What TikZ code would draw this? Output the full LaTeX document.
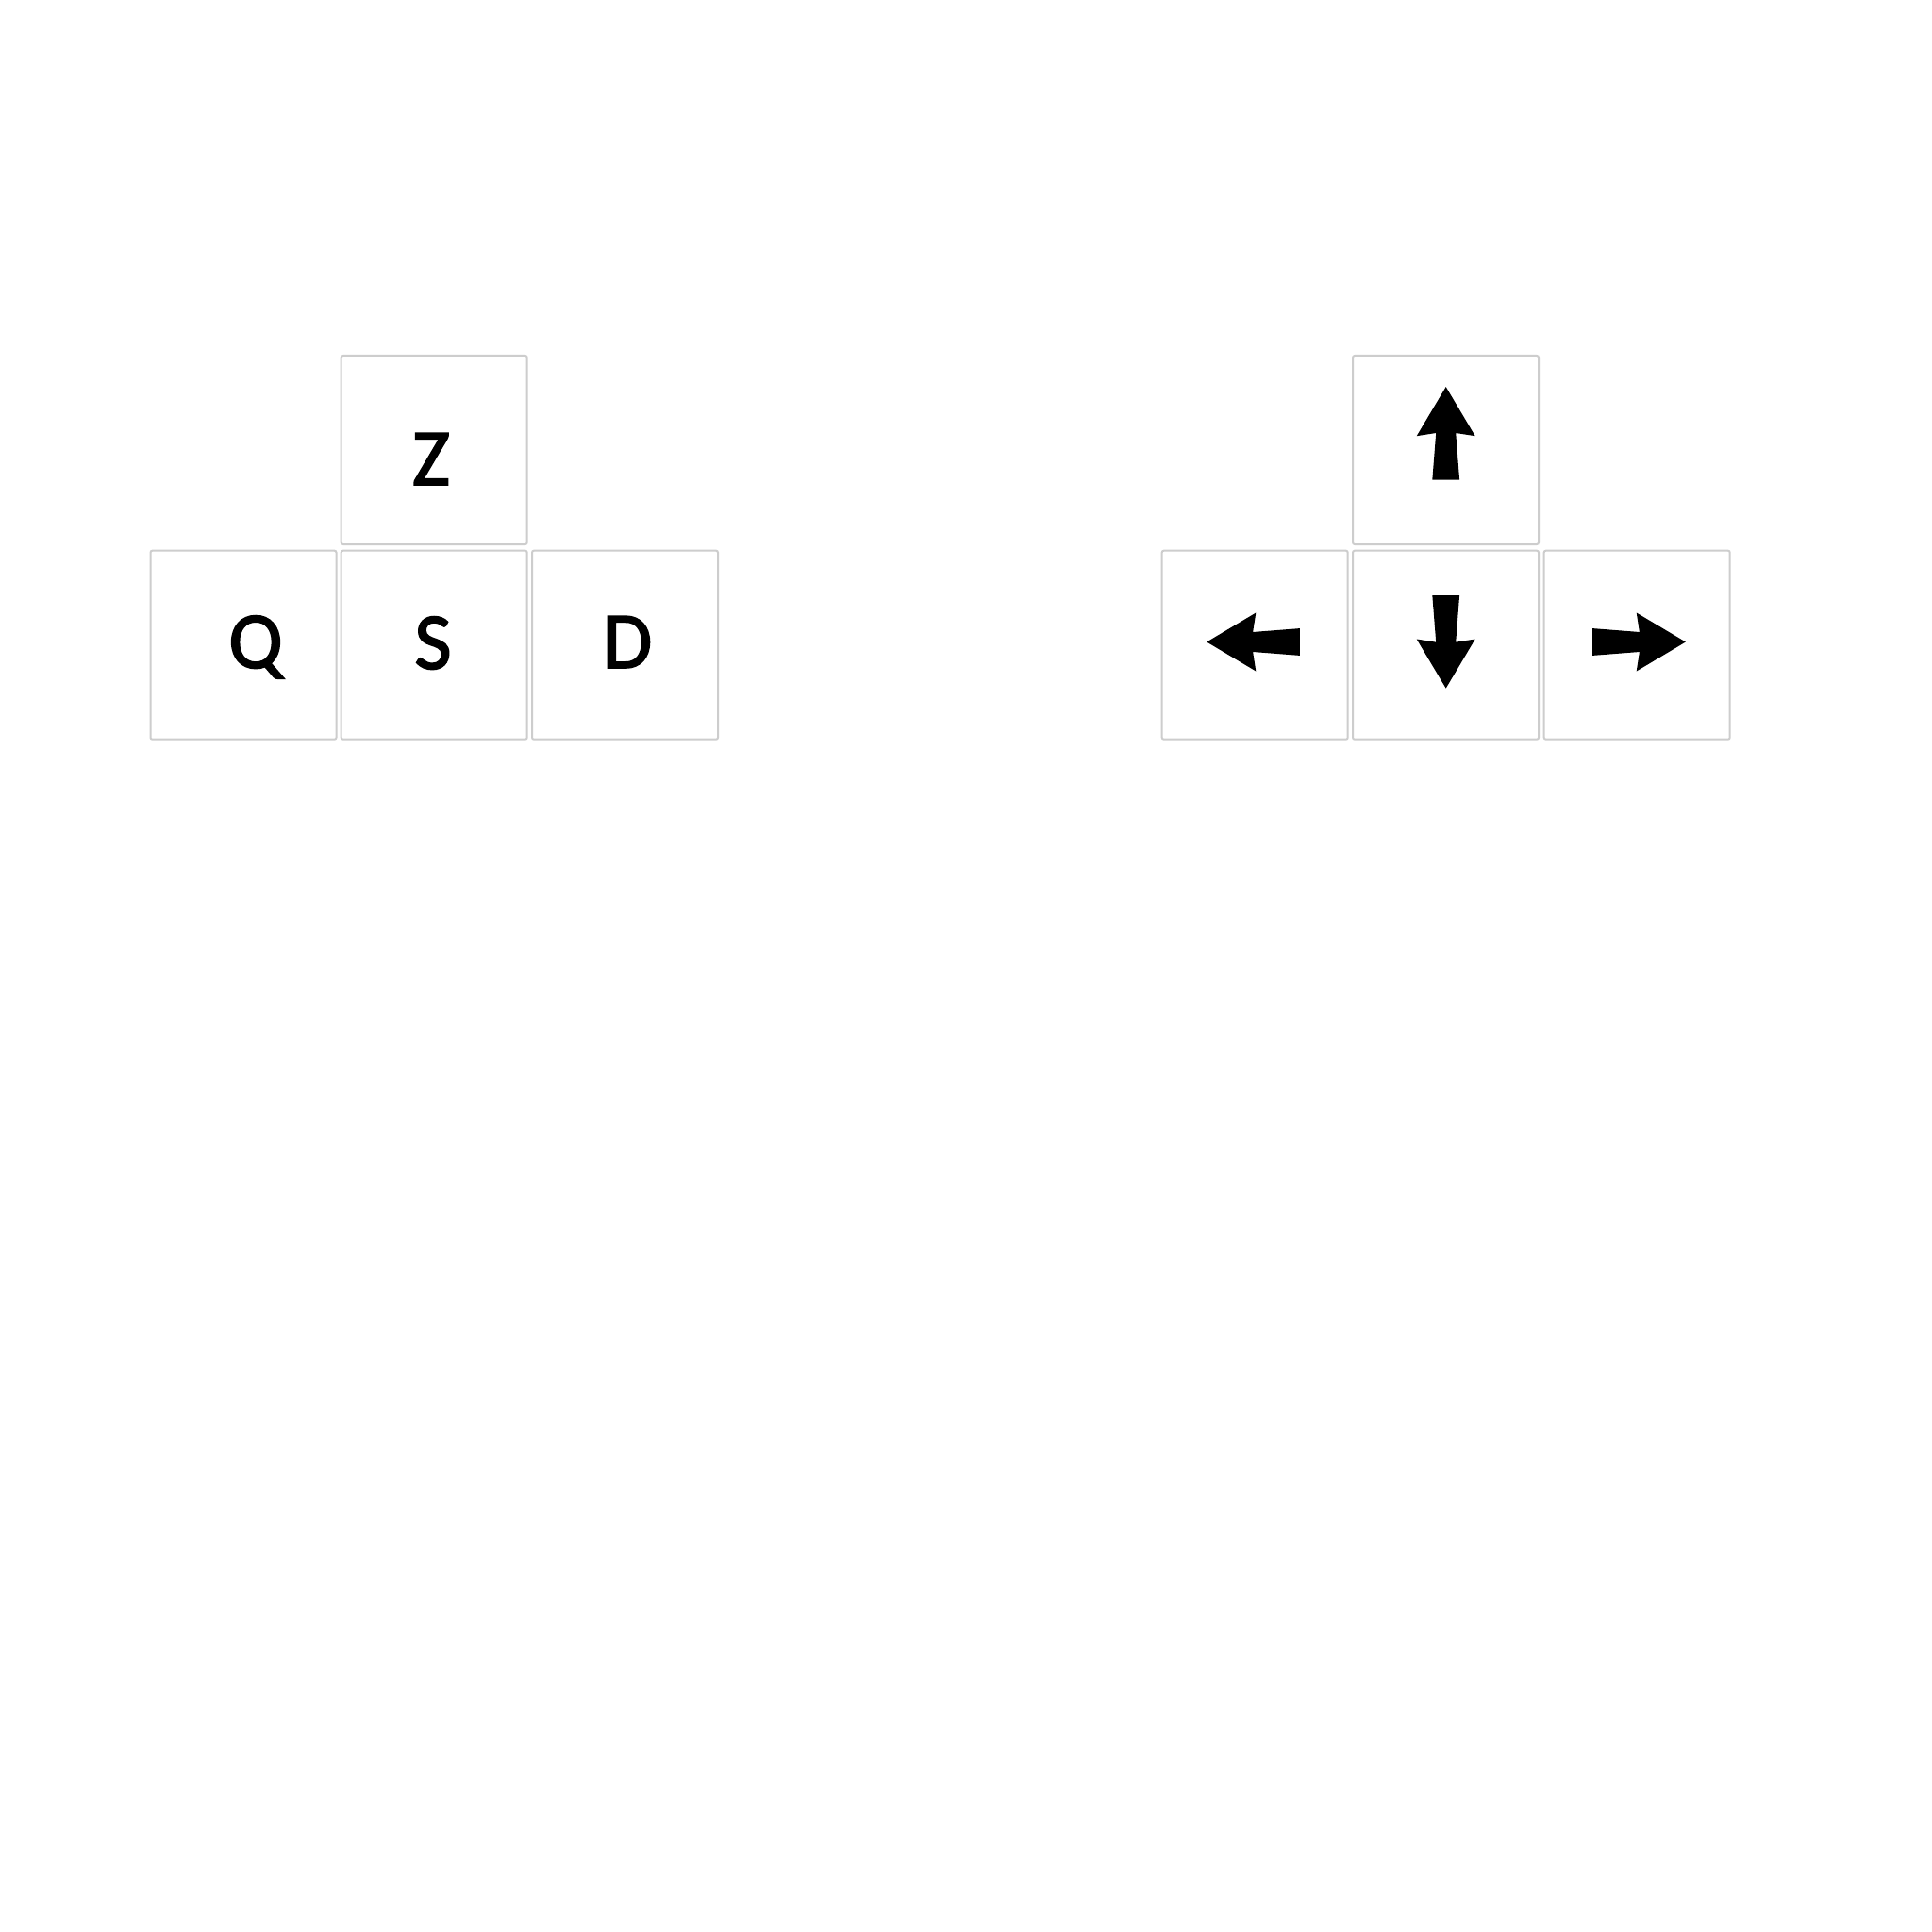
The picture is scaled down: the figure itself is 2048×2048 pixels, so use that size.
\documentclass[tikz,border=0pt]{standalone}
\usepackage{fontspec}
\setmainfont{Carlito}
\newfontfamily\keyfont{Carlito}[FakeBold=2]
\definecolor{keyline}{RGB}{205,205,205}
\tikzset{
  key/.style={draw=keyline, line width=1pt, rounded corners=1pt, fill=white,
    minimum width=98.5pt, minimum height=100pt, inner sep=0pt, outer sep=0pt},
  keylabel/.style={anchor=base, inner sep=0pt, font=\keyfont\fontsize{42.7}{50}\selectfont}
}
\newcommand{\keyarrow}[2]{%
  \begin{scope}[shift={#1}, rotate=#2]
    \fill[black] (0,14.4) -- (49.7,10.5) -- (46.5,31) -- (98.6,0) -- (46.5,-31) -- (49.7,-10.5) -- (0,-14.4) -- cycle;
  \end{scope}}
\begin{document}
\begin{tikzpicture}[x=0.5pt, y=-0.5pt]
\useasboundingbox[fill=white] (0,0) rectangle (2048,2048);
% left cluster
\node[key] (kz) at (460.2,477) {};
\node[key] (kq) at (258,683.7) {};
\node[key] (ks) at (460.2,683.7) {};
\node[key] (kd) at (662.5,683.7) {};
\node[keylabel] (lz) at (457,514) {Z};
\node[keylabel] (lq) at (271,708) {Q};
\node[keylabel] (ls) at (459,709) {S};
\node[keylabel] (ld) at (665,708) {D};
% right cluster
\node[key] (kup) at (1532.5,477) {};
\node[key] (kleft) at (1330.2,683.7) {};
\node[key] (kdown) at (1532.5,683.7) {};
\node[key] (kright) at (1735.2,683.7) {};
\keyarrow{(1532.7,508.7)}{90}
\keyarrow{(1532.7,631)}{-90}
\keyarrow{(1377.8,680.5)}{180}
\keyarrow{(1688.2,680.5)}{0}
\end{tikzpicture}
\end{document}
